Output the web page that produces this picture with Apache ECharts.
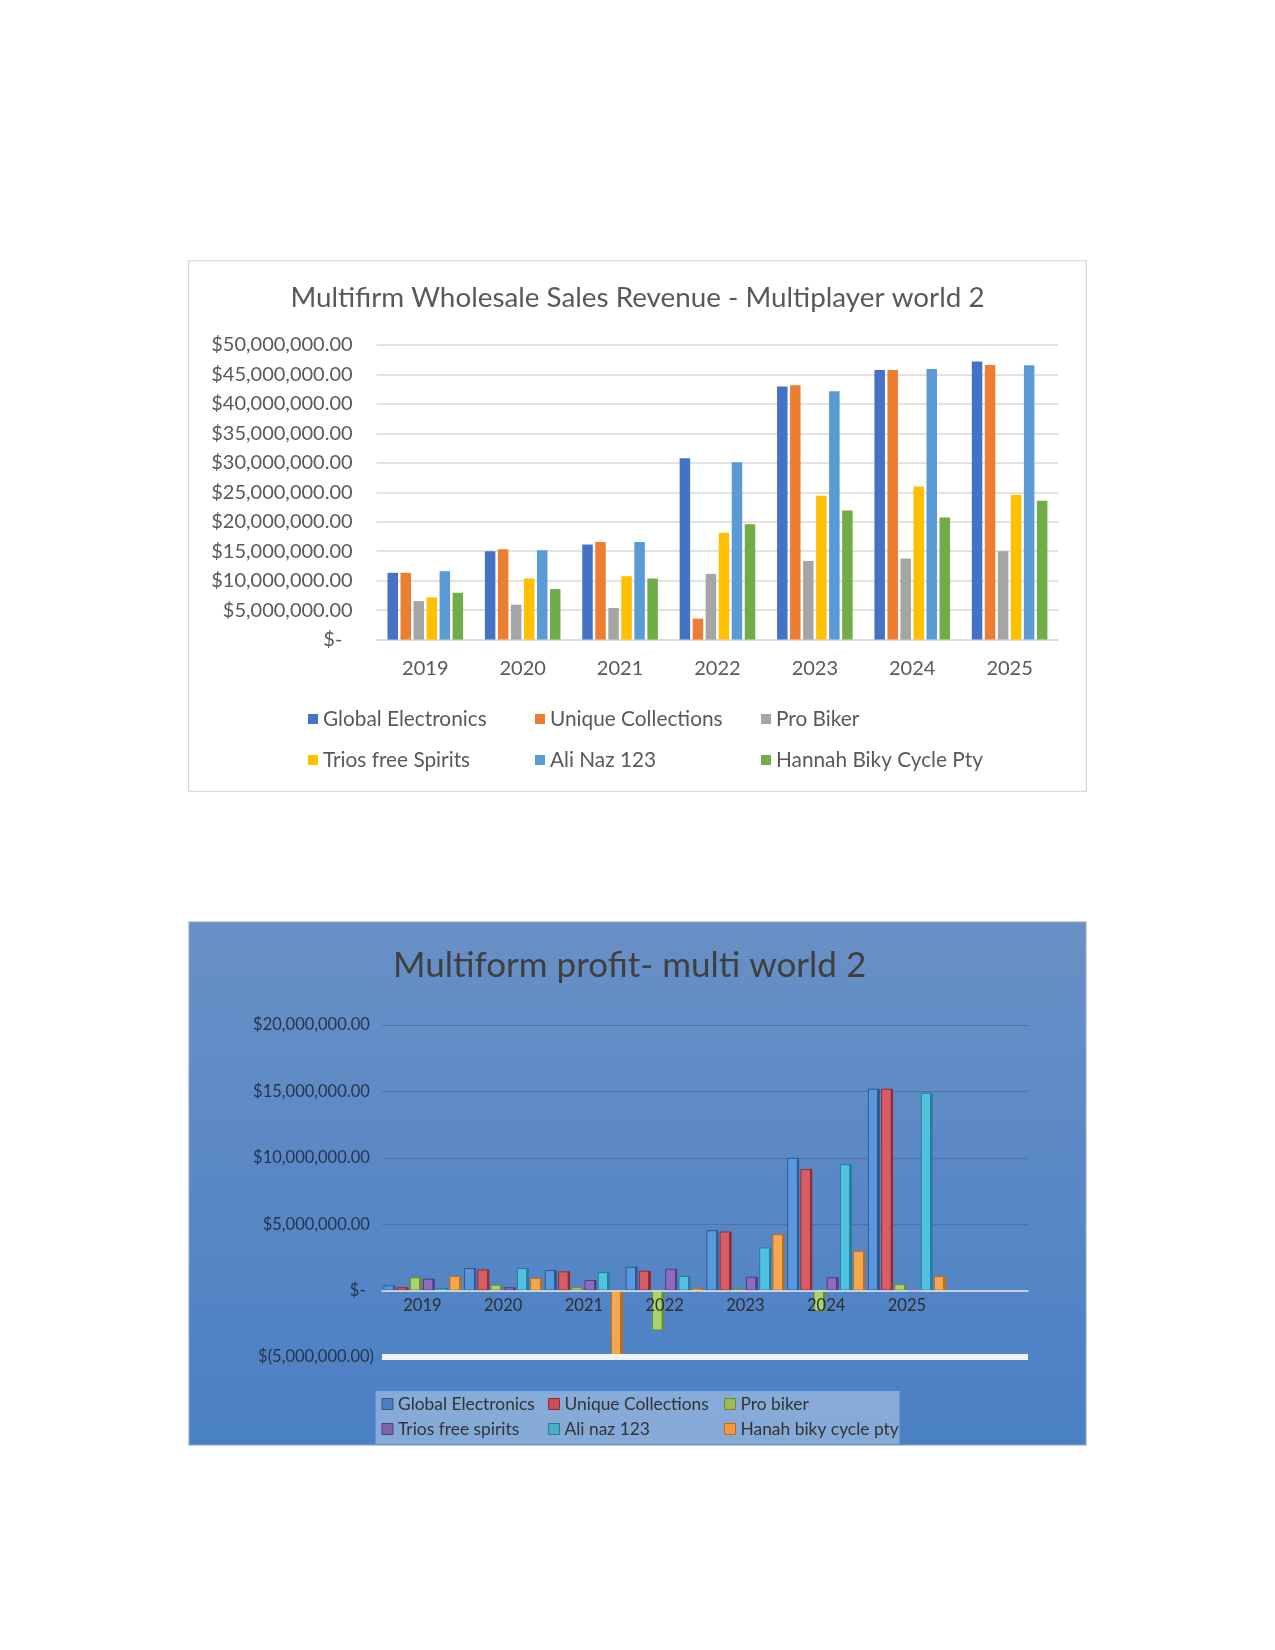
<!DOCTYPE html>
<html>
<head>
<meta charset="utf-8">
<script src="https://cdn.jsdelivr.net/npm/echarts@6/dist/echarts.min.js"></script>
<style>
html,body{margin:0;padding:0;background:#fff;}
#c1{position:absolute;left:188px;top:260px;width:899px;height:532px;}
#c2{position:absolute;left:188px;top:921px;width:899px;height:525px;}
</style>
</head>
<body>
<div id="c1"></div>
<div id="c2"></div>
<script>
// ---------- Chart 1 data: Wholesale Sales Revenue ----------
var revYears = ['2019','2020','2021','2022','2023','2024','2025'];
var revNames = ['Global Electronics','Unique Collections','Pro Biker','Trios free Spirits','Ali Naz 123','Hannah Biky Cycle Pty'];
var revGlobal  = [11330000, 15000000, 16120000, 30780000, 42950000, 45770000, 47180000];
var revUnique  = [11330000, 15330000, 16570000,  3550000, 43180000, 45770000, 46620000];
var revProBiker= [ 6540000,  5920000,  5360000, 11160000, 13360000, 13750000, 15000000];
var revTrios   = [ 7160000, 10370000, 10770000, 18150000, 24410000, 25990000, 24580000];
var revAliNaz  = [11610000, 15160000, 16570000, 30100000, 42160000, 45940000, 46560000];
var revHannah  = [ 7950000,  8570000, 10370000, 19560000, 21930000, 20740000, 23560000];
var revColors  = ['#4472C4','#ED7D31','#A5A5A5','#FFC000','#5B9BD5','#70AD47'];

// ---------- Chart 2 data: Profit ----------
var profYears = ['2019','2020','2021','2022','2023','2024','2025',''];
var profNames = ['Global Electronics','Unique Collections','Pro biker','Trios free spirits','Ali naz 123','Hanah biky cycle pty'];
var profGlobal = [ 400000, 1700000, 1550000, 1800000, 4550000, 10000000, 15200000];
var profUnique = [ 250000, 1600000, 1450000, 1500000, 4450000,  9150000, 15200000];
var profProBiker=[1000000,  450000,  250000,-3000000,  150000, -1550000,   480000];
var profTrios  = [ 900000,  250000,  800000, 1650000, 1050000,  1000000,  -100000];
var profAliNaz = [ 200000, 1700000, 1400000, 1100000, 3250000,  9520000, 14900000];
var profHanah  = [1100000,  950000,-4900000,  200000, 4250000,  3000000,  1090000];
var profFace   = ['#5a97dc','#d75c64','#a9d36b','#8d6cc0','#52c0df','#f4a851'];
var profEdge   = ['#2c5a93','#8f2c32','#6b8c35','#533d82','#23809c','#c36d17'];
var profLegend = ['#4a7fc0','#c94f52','#9bbb59','#8064a2','#4bacc6','#f79646'];

function fmtNum(n){
  var s = Math.round(Math.abs(n)).toString();
  var out = '';
  while (s.length > 3){ out = ',' + s.slice(-3) + out; s = s.slice(0, -3); }
  return s + out + '.00';
}

// ================= Chart 1 =================
var ch1 = echarts.init(document.getElementById('c1'));
var revData = [revGlobal, revUnique, revProBiker, revTrios, revAliNaz, revHannah];
var font = 'Lato, "Open Sans", sans-serif';
var series1 = revNames.map(function(n, i){
  return {name:n, type:'bar', data:revData[i], barWidth:10.5, barGap:'24%',
          itemStyle:{color:revColors[i]}};
});
var legPos1 = [[115,443],[342,443],[568,443],[115,484],[342,484],[568,484]];
var legends1 = revNames.map(function(n,i){
  return {data:[{name:n, itemStyle:{color:revColors[i]}}], left:legPos1[i][0], top:legPos1[i][1],
    icon:'rect', itemWidth:10, itemHeight:10, selectedMode:false,
    textStyle:{fontFamily:font, fontSize:20.8, color:'#595959', lineHeight:22}};
});
ch1.setOption({
  animation:false,
  graphic:[{type:'rect', shape:{x:0.5,y:0.5,width:898,height:531}, style:{fill:'#fff', stroke:'#d9d9d9', lineWidth:1.5}, z:-10}],
  title:{text:'Multifirm Wholesale Sales Revenue - Multiplayer world 2', left:'center', top:19,
    textStyle:{fontFamily:font, fontSize:27.8, fontWeight:'normal', color:'#595959'}},
  legend:legends1,
  grid:{left:188.6, right:28.7, top:85, bottom:152.4},
  xAxis:{type:'category', data:revYears,
    axisLine:{lineStyle:{color:'#d9d9d9', width:1.5}}, axisTick:{show:false},
    axisLabel:{fontFamily:font, fontSize:20, color:'#595959', margin:19}},
  yAxis:{type:'value', min:0, max:50000000, interval:5000000,
    axisLine:{show:false}, axisTick:{show:false},
    splitLine:{lineStyle:{color:'#d9d9d9', width:1.5}},
    axisLabel:{fontFamily:font, fontSize:20, color:'#595959', margin:24,
      formatter:function(v){ return v===0 ? '$-  ' : '$' + fmtNum(v); }}},
  series:series1
});

// ================= Chart 2 =================
var ch2 = echarts.init(document.getElementById('c2'));
var profData = [profGlobal, profUnique, profProBiker, profTrios, profAliNaz, profHanah];
var series2 = profNames.map(function(n,i){
  var s = {name:n, type:'bar', data:profData[i], barWidth:12, barGap:'10%',
    itemStyle:{color:{type:'linear',x:0,y:0,x2:1,y2:0,colorStops:[
      {offset:0,color:profFace[i]},{offset:0.78,color:profFace[i]},{offset:0.8,color:profEdge[i]},{offset:1,color:profEdge[i]}]},
      borderColor:profEdge[i], borderWidth:1}};
  if (i===0){
    s.markLine = {silent:true, symbol:'none', label:{show:false},
      lineStyle:{color:'#f0f2f5', width:6, type:'solid'},
      data:[{yAxis:-5000000}]};
  }
  return s;
});
var legPos2 = [[188.5,469],[355,469],[531,469],[188.5,494],[355,494],[531,494]];
var legends2 = profNames.map(function(n,i){
  return {data:[{name:n, itemStyle:{color:profLegend[i], borderColor:profEdge[i], borderWidth:1}}],
    left:legPos2[i][0], top:legPos2[i][1],
    icon:'rect', itemWidth:11, itemHeight:11, selectedMode:false,
    textStyle:{fontFamily:font, fontSize:17.4, color:'#333333', lineHeight:18}};
});
ch2.setOption({
  animation:false,
  graphic:[
    {type:'rect', shape:{x:0.5,y:0.5,width:898,height:524}, z:-10,
     style:{fill:{type:'linear',x:0,y:0,x2:0,y2:1,colorStops:[{offset:0,color:'#6990c6'},{offset:1,color:'#4a80c5'}]},
            stroke:'#c8ccd2', lineWidth:1.5}},
    {type:'rect', shape:{x:187.6,y:470,width:524,height:53}, z:-5,
     style:{fill:'rgba(255,255,255,0.33)'}}
  ],
  title:{text:'Multiform profit- multi world 2', left:200, top:22.5,
    textStyle:{fontFamily:font, fontSize:35, fontWeight:'normal', color:'#3f3f3f'}},
  legend:legends2,
  grid:{left:194, right:59, top:104, bottom:89},
  xAxis:{type:'category', data:profYears, z:10, offset:-66.4,
    axisLine:{onZero:false, lineStyle:{color:'rgba(255,255,255,0.85)', width:1.5}}, axisTick:{show:false},
    axisLabel:{fontFamily:font, fontSize:16.5, color:'#2e2e2e', margin:7}},
  yAxis:{type:'value', min:-5000000, max:20000000, interval:5000000,
    axisLine:{show:false}, axisTick:{show:false},
    splitLine:{lineStyle:{color:'#55729b', width:1.2}},
    axisLabel:{fontFamily:font, fontSize:16.5, color:'#26344c', margin:8,
      formatter:function(v){ if(v===0) return '$-  '; return v<0 ? '$(' + fmtNum(v) + ')' : '$' + fmtNum(v) + ' '; }}},
  series:series2
});
</script>
</body>
</html>
